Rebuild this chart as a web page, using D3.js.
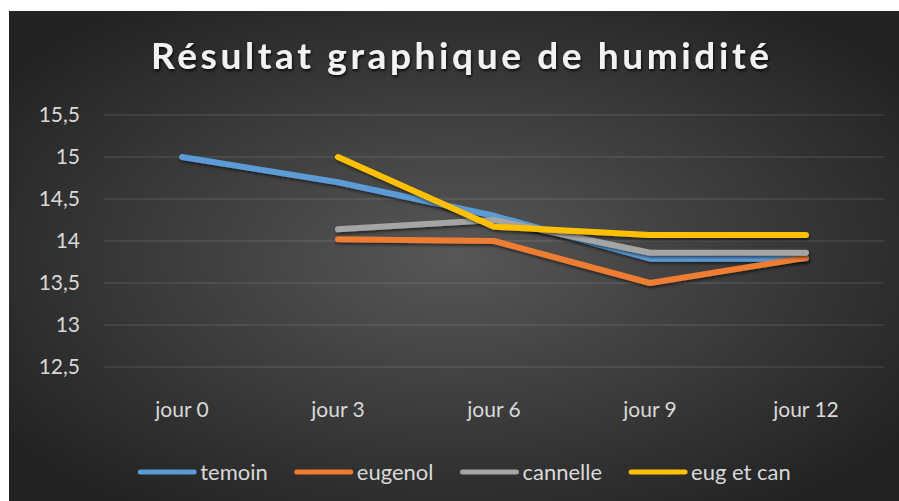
<!DOCTYPE html>
<html>
<head>
<meta charset="utf-8">
<script src="https://cdn.jsdelivr.net/npm/d3@7"></script>
<style>
  body { margin: 0; background: #fff; }
  svg { display: block; }
</style>
</head>
<body>
<div id="chart"></div>
<script>
// data
const days = ["jour 0", "jour 3", "jour 6", "jour 9", "jour 12"];
const temoin = [15, 14.7, 14.3, 13.79, 13.79];
const eugenol = [null, 14.02, 14.0, 13.5, 13.8];
const cannelle = [null, 14.14, 14.25, 13.86, 13.86];
const eugEtCan = [null, 15, 14.17, 14.07, 14.07];
const yTicks = [12.5, 13, 13.5, 14, 14.5, 15, 15.5];
const seriesNames = ["temoin", "eugenol", "cannelle", "eug et can"];
const seriesColors = ["#5b9bd5", "#ed7d31", "#a5a5a5", "#ffc000"];

const width = 899, height = 501;
const box = { x: 9, y: 11 };
const plot = { left: 104, right: 884, top: 115, bottom: 367 };

const svg = d3.select("#chart").append("svg")
    .attr("width", width)
    .attr("height", height);

const defs = svg.append("defs");
const grad = defs.append("radialGradient")
    .attr("id", "bg")
    .attr("cx", "50%").attr("cy", "50%").attr("r", "62%");
grad.append("stop").attr("offset", "0%").attr("stop-color", "#575757");
grad.append("stop").attr("offset", "100%").attr("stop-color", "#232323");

const shadow = defs.append("filter").attr("id", "shadow")
    .attr("x", "-10%").attr("y", "-30%").attr("width", "120%").attr("height", "160%");
shadow.append("feDropShadow")
    .attr("dx", 1).attr("dy", 2).attr("stdDeviation", 1.5)
    .attr("flood-color", "#000").attr("flood-opacity", 0.55);

const tshadow = defs.append("filter").attr("id", "tshadow")
    .attr("x", "-5%").attr("y", "-30%").attr("width", "110%").attr("height", "160%");
tshadow.append("feDropShadow")
    .attr("dx", 1).attr("dy", 2).attr("stdDeviation", 1.5)
    .attr("flood-color", "#000").attr("flood-opacity", 0.8);

svg.append("rect")
    .attr("x", box.x).attr("y", box.y)
    .attr("width", width - box.x).attr("height", height - box.y)
    .attr("fill", "url(#bg)");

// scales
const x = d3.scaleBand().domain(days).range([plot.left, plot.right]);
const y = d3.scaleLinear().domain([12.5, 15.5]).range([plot.bottom, plot.top]);

// gridlines
svg.append("g").selectAll("line")
    .data(yTicks)
    .join("line")
    .attr("x1", plot.left).attr("x2", plot.right)
    .attr("y1", d => y(d)).attr("y2", d => y(d))
    .attr("stroke", "rgba(255,255,255,0.16)")
    .attr("stroke-width", 1);

const fmt = d => String(d).replace(".", ",");

// y axis labels
const yAxis = svg.append("g")
    .attr("transform", `translate(${plot.left},0)`)
    .call(d3.axisLeft(y).tickValues(yTicks).tickFormat(fmt).tickSize(0).tickPadding(24));
yAxis.select(".domain").remove();
yAxis.selectAll("text")
    .attr("fill", "#d9d9d9")
    .style("font-family", "Lato, 'Open Sans', sans-serif")
    .style("font-size", "21px");

// x axis labels
const xAxis = svg.append("g")
    .attr("transform", `translate(0,${plot.bottom})`)
    .call(d3.axisBottom(x).tickSize(0).tickPadding(0));
xAxis.select(".domain").remove();
xAxis.selectAll("text")
    .attr("dy", null)
    .attr("y", 50)
    .attr("fill", "#d9d9d9")
    .style("font-family", "Lato, 'Open Sans', sans-serif")
    .style("font-size", "21px");

// lines
const allSeries = [temoin, eugenol, cannelle, eugEtCan];
const line = d3.line()
    .defined(d => d != null)
    .x((d, i) => x(days[i]) + x.bandwidth() / 2)
    .y(d => y(d));

allSeries.forEach((vals, k) => {
    svg.append("path")
        .datum(vals)
        .attr("d", line)
        .attr("fill", "none")
        .attr("stroke", seriesColors[k])
        .attr("stroke-width", 6)
        .attr("stroke-linecap", "round")
        .attr("stroke-linejoin", "round")
        .attr("filter", "url(#shadow)");
});

// title
svg.append("text")
    .attr("x", 460).attr("y", 69)
    .attr("text-anchor", "middle")
    .attr("textLength", 618)
    .attr("lengthAdjust", "spacing")
    .attr("fill", "#f2f2f2")
    .attr("filter", "url(#tshadow)")
    .style("font-family", "Lato, 'Open Sans', sans-serif")
    .style("font-weight", "bold")
    .style("font-size", "37px")
    .text("Résultat  graphique  de  humidité");

// legend
const legend = svg.append("g");
const items = legend.selectAll("g")
    .data(seriesNames)
    .join("g");
items.append("line")
    .attr("x1", 0).attr("x2", 54)
    .attr("y1", 0).attr("y2", 0)
    .attr("stroke", (d, i) => seriesColors[i])
    .attr("stroke-width", 5)
    .attr("stroke-linecap", "round");
items.append("text")
    .attr("x", 60).attr("y", 8)
    .attr("fill", "#d9d9d9")
    .style("font-family", "Lato, 'Open Sans', sans-serif")
    .style("font-size", "22px")
    .text(d => d);

let offs = 0;
const positions = [];
items.each(function() {
    positions.push(offs);
    const w = d3.select(this).select("text").node().getComputedTextLength();
    offs += 60 + w + 29;
});
const total = offs - 29;
const startX = 465.5 - total / 2;
items.attr("transform", (d, i) => `translate(${startX + positions[i]},472)`);
</script>
</body>
</html>
